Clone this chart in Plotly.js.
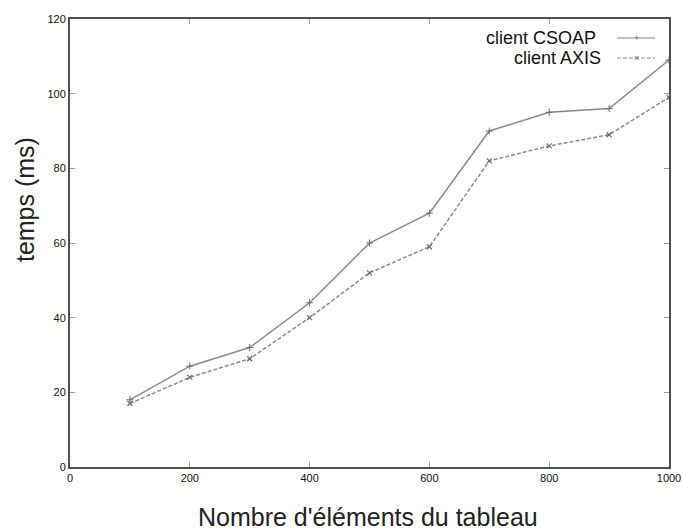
<!DOCTYPE html>
<html><head><meta charset="utf-8">
<script src="https://cdn.plot.ly/plotly-3.0.1.min.js"></script>
<style>html,body{margin:0;padding:0;background:#fff}#chart{width:683px;height:530px}</style>
</head><body><div id="chart"></div>
<script>
const nbElements = [100, 200, 300, 400, 500, 600, 700, 800, 900, 1000];
const clientCSOAP = [18, 27, 32, 44, 60, 68, 90, 95, 96, 109];
const clientAXIS = [17, 24, 29, 40, 52, 59, 82, 86, 89, 99];
const xTicks = [0, 200, 400, 600, 800, 1000];
const yTicks = [0, 20, 40, 60, 80, 100, 120];
const seriesNames = ['client CSOAP', 'client AXIS'];
const xTitle = "Nombre d'éléments du tableau";
const yTitle = 'temps (ms)';

const FONT = 'Liberation Sans, Arial, sans-serif';

const traces = [
  {x: nbElements, y: clientCSOAP, name: seriesNames[0], mode: 'lines+markers', type: 'scatter',
   line: {color: '#8a8a8a', width: 1.5, dash: 'solid'},
   marker: {symbol: 'cross-thin-open', size: 5, color: '#6a6a6a', line: {color: '#6a6a6a', width: 1}},
   showlegend: false},
  {x: nbElements, y: clientAXIS, name: seriesNames[1], mode: 'lines+markers', type: 'scatter',
   line: {color: '#8a8a8a', width: 1.5, dash: '4px,2px'},
   marker: {symbol: 'x-thin-open', size: 5, color: '#6a6a6a', line: {color: '#6a6a6a', width: 1.2}},
   showlegend: false}
];

const axisCommon = {
  showgrid: false, zeroline: false, showline: true, linecolor: '#505050', linewidth: 2,
  mirror: 'allticks', ticks: 'inside', ticklen: 5, tickwidth: 1, tickcolor: '#9a9a9a',
  tickfont: {family: FONT, size: 11, color: '#111'}
};

const legendY = [0.9576, 0.913];
const legendTextX = [0.8815, 0.8898];
const layout = {
  width: 683, height: 530,
  margin: {l: 70, r: 14, t: 19, b: 63},
  paper_bgcolor: '#fff', plot_bgcolor: '#fff',
  xaxis: Object.assign({}, axisCommon, {range: [0, 1000], tickvals: xTicks, ticktext: xTicks.map(String)}),
  yaxis: Object.assign({}, axisCommon, {range: [0, 120], tickvals: yTicks, ticktext: yTicks.map(String)}),
  showlegend: false,
  annotations: seriesNames.map((n, i) => ({
    xref: 'paper', yref: 'paper', x: legendTextX[i], y: legendY[i], xanchor: 'right', yanchor: 'middle',
    text: n, showarrow: false, font: {family: FONT, size: 18, color: '#111'}
  })).concat([
    {xref: 'paper', yref: 'paper', x: 0.945, y: legendY[0], text: '+', showarrow: false,
     font: {family: FONT, size: 9, color: '#6a6a6a'}, xanchor: 'center', yanchor: 'middle'},
    {xref: 'paper', yref: 'paper', x: 0.945, y: legendY[1], text: '×', showarrow: false,
     font: {family: FONT, size: 9, color: '#6a6a6a'}, xanchor: 'center', yanchor: 'middle'},
    {xref: 'paper', yref: 'paper', x: 0.497, y: -0.1116, xanchor: 'center', yanchor: 'middle',
     text: xTitle, showarrow: false, font: {family: FONT, size: 25, color: '#222'}},
    {xref: 'paper', yref: 'paper', x: -0.075, y: 0.596, xanchor: 'center', yanchor: 'middle', textangle: -90,
     text: yTitle, showarrow: false, font: {family: FONT, size: 25, color: '#222'}}
  ]),
  shapes: [
    {type: 'line', xref: 'paper', yref: 'paper', x0: 0.913, x1: 0.9766, y0: legendY[0], y1: legendY[0], line: {color: '#8a8a8a', width: 1.2}},
    {type: 'line', xref: 'paper', yref: 'paper', x0: 0.913, x1: 0.9766, y0: legendY[1], y1: legendY[1], line: {color: '#8a8a8a', width: 1.2, dash: '4px,2px'}}
  ]
};

Plotly.newPlot('chart', traces, layout, {displayModeBar: false, staticPlot: true});
</script>
</body></html>
